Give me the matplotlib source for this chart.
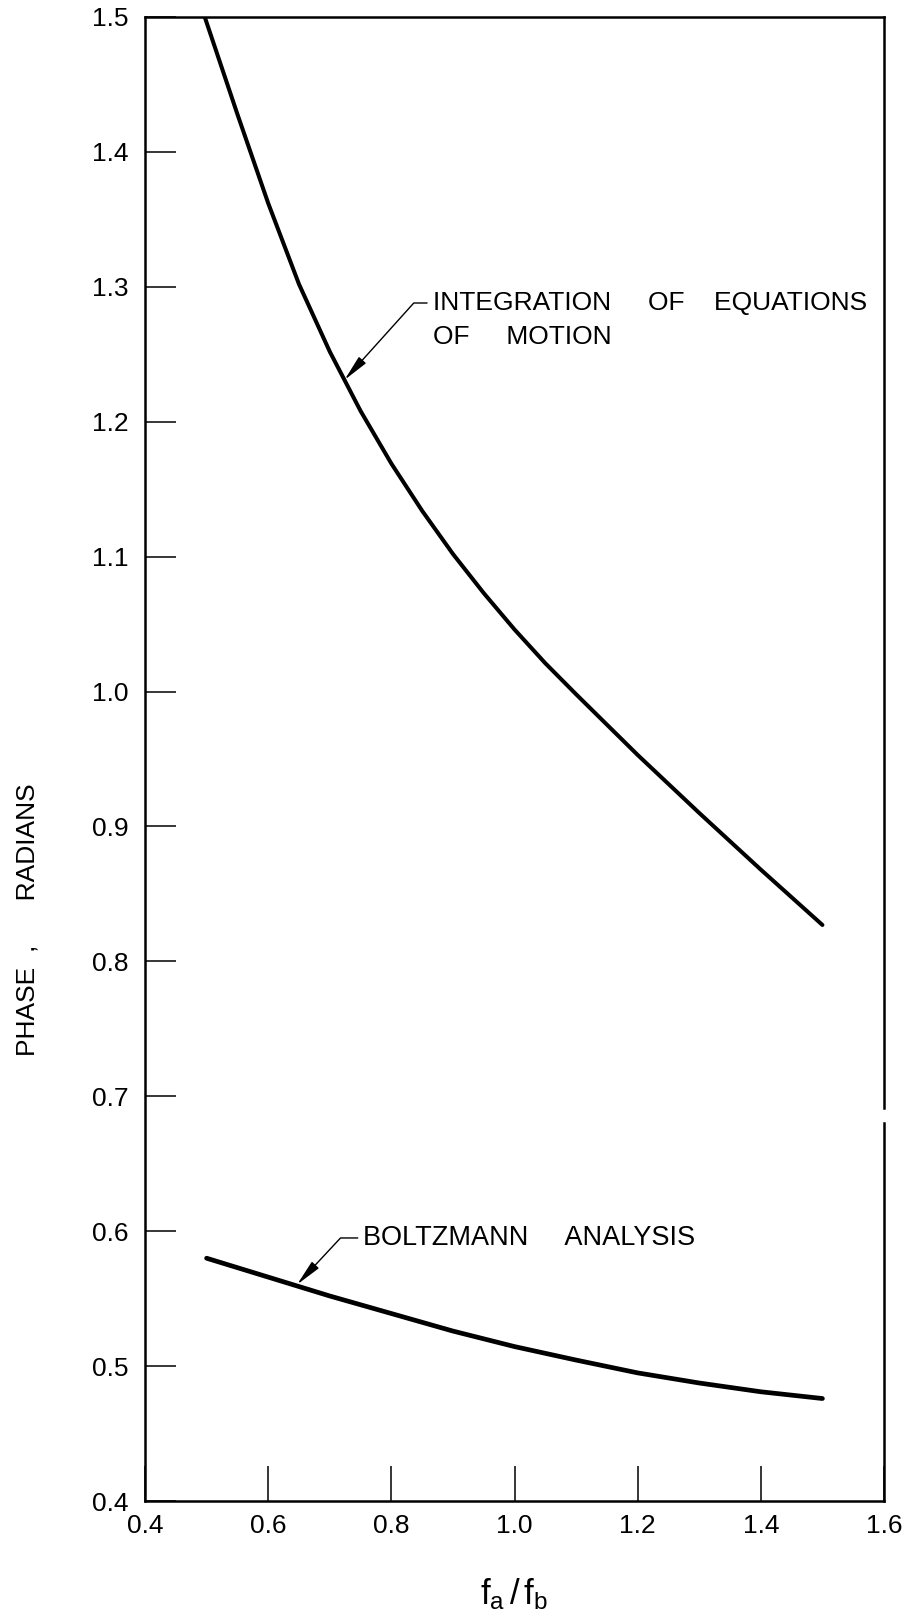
import matplotlib
matplotlib.use("Agg")
import matplotlib.pyplot as plt
from matplotlib.ticker import FixedLocator, FormatStrFormatter

# Phase vs. frequency ratio, two methods
ratio_integration = [0.497, 0.55, 0.60, 0.65, 0.70, 0.75, 0.80, 0.85, 0.90,
                     0.95, 1.00, 1.05, 1.10, 1.20, 1.30, 1.40, 1.50]
phase_integration = [1.500, 1.428, 1.362, 1.302, 1.252, 1.208, 1.169, 1.134,
                     1.102, 1.073, 1.046, 1.021, 0.998, 0.953, 0.910, 0.868,
                     0.827]

ratio_boltzmann = [0.50, 0.60, 0.70, 0.80, 0.90, 1.00, 1.10, 1.20, 1.30, 1.40, 1.50]
phase_boltzmann = [0.580, 0.566, 0.552, 0.539, 0.526, 0.5145, 0.5045, 0.495,
                   0.4875, 0.481, 0.476]

x_ticks = [0.4, 0.6, 0.8, 1.0, 1.2, 1.4, 1.6]
y_ticks = [0.4, 0.5, 0.6, 0.7, 0.8, 0.9, 1.0, 1.1, 1.2, 1.3, 1.4, 1.5]

label_integration_1 = "INTEGRATION     OF    EQUATIONS"
label_integration_2 = "OF     MOTION"
label_boltzmann = "BOLTZMANN     ANALYSIS"
y_label = "PHASE  ,      RADIANS"

family = "Liberation Sans"
plt.rcParams["font.family"] = [family, "DejaVu Sans"]
plt.rcParams["mathtext.fontset"] = "custom"
plt.rcParams["mathtext.rm"] = family
plt.rcParams["mathtext.it"] = family

fig = plt.figure(figsize=(9.12, 16.17), dpi=100)
ax = fig.add_axes([0.159, 0.0717, 0.8103, 0.9178])

ax.plot(ratio_integration, phase_integration, color="black", lw=2.9,
        solid_capstyle="round", solid_joinstyle="round")
ax.plot(ratio_boltzmann, phase_boltzmann, color="black", lw=3.4,
        solid_capstyle="round", solid_joinstyle="round")

ax.set_xlim(0.4, 1.6)
ax.set_ylim(0.4, 1.5)

ax.xaxis.set_major_locator(FixedLocator(x_ticks))
ax.yaxis.set_major_locator(FixedLocator(y_ticks))
ax.xaxis.set_major_formatter(FormatStrFormatter("%.1f"))
ax.yaxis.set_major_formatter(FormatStrFormatter("%.1f"))
ax.tick_params(axis="x", direction="in", length=25, width=1.1, pad=9,
               labelsize=19, top=False)
ax.tick_params(axis="y", direction="in", length=22, width=1.1, pad=12,
               labelsize=19, right=False)

for side in ("left", "bottom", "top"):
    ax.spines[side].set_linewidth(1.8)
# right border drawn in two pieces, with its small break
ax.spines["right"].set_visible(False)
ax.axvline(1.6, ymin=0.0, ymax=(0.680 - 0.4) / 1.1, color="black", lw=1.8,
           clip_on=False)
ax.axvline(1.6, ymin=(0.691 - 0.4) / 1.1, ymax=1.0, color="black", lw=1.8,
           clip_on=False)

arrow_kw = dict(arrowstyle="-|>,head_length=1.0,head_width=0.18",
                color="black", lw=1.0, mutation_scale=16, shrinkA=2, shrinkB=0,
                relpos=(0.0, 0.5))

ax.annotate(label_integration_1, xy=(0.724, 1.231), xytext=(0.867, 1.288),
            fontsize=19, ha="left", va="center",
            arrowprops=dict(connectionstyle="angle,angleA=0,angleB=48,rad=0",
                            **arrow_kw))
ax.text(0.867, 1.263, label_integration_2, fontsize=19, ha="left", va="center")

ax.annotate(label_boltzmann, xy=(0.647, 0.5605), xytext=(0.7545, 0.595),
            fontsize=19.5, ha="left", va="center",
            arrowprops=dict(connectionstyle="angle,angleA=0,angleB=47,rad=0",
                            **arrow_kw))

fig.text(28 / 912, 1 - 920 / 1617, y_label, rotation=90, ha="center",
         va="center", fontsize=19)
fig.text(514 / 912, 1 - 1594 / 1617, r"$\mathrm{f_a\,/\,f_b}$", ha="center",
         va="center", fontsize=25)

fig.savefig("out.png", dpi=100)
